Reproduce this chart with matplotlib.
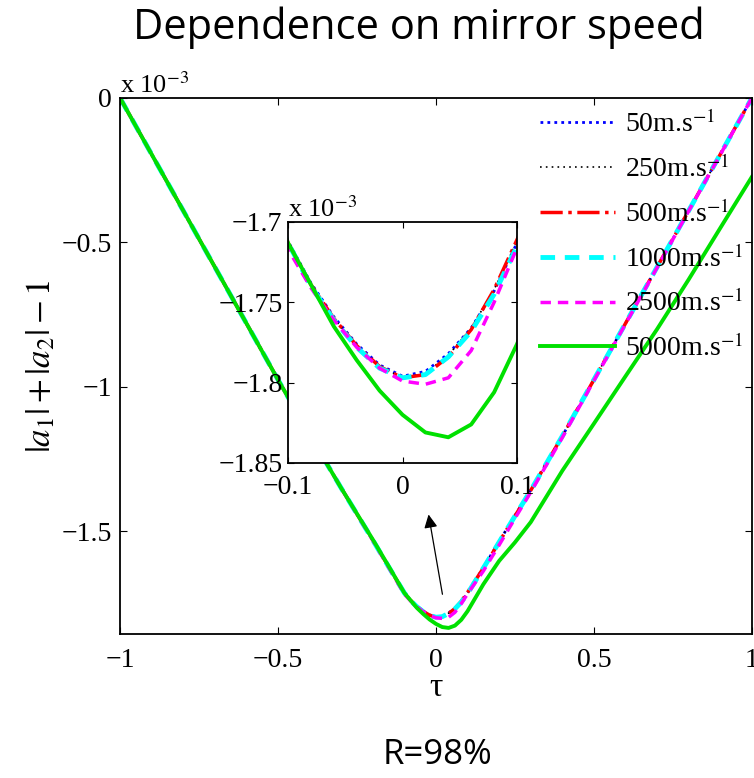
import numpy as np
import matplotlib
matplotlib.use('Agg')
from matplotlib import pyplot as plt

plt.rcParams['font.family'] = 'Liberation Serif'
plt.rcParams['mathtext.fontset'] = 'stix'

#%% data (values in units of 1e-3)
tau = [-1.0, -0.9, -0.8, -0.7, -0.6, -0.5, -0.4, -0.3, -0.2, -0.15,
       -0.1, -0.08, -0.06, -0.04, -0.02, 0.0, 0.02, 0.04, 0.06, 0.08, 0.1,
       0.15, 0.2, 0.25, 0.3, 0.4, 0.5, 0.6, 0.7, 0.8, 0.9, 1.0]

v50 = [0.0, -0.195, -0.39, -0.585, -0.78, -0.975, -1.165, -1.35, -1.530, -1.622,
       -1.712, -1.738, -1.759, -1.776, -1.789, -1.796, -1.793, -1.782, -1.766, -1.743, -1.713,
       -1.625, -1.535, -1.445, -1.357, -1.17, -0.975, -0.78, -0.585, -0.39, -0.195, 0.0]
v250 = [0.0, -0.195, -0.39, -0.585, -0.78, -0.975, -1.165, -1.35, -1.530, -1.622,
        -1.713, -1.739, -1.760, -1.777, -1.790, -1.797, -1.794, -1.783, -1.766, -1.742, -1.712,
        -1.625, -1.535, -1.445, -1.357, -1.17, -0.975, -0.78, -0.585, -0.39, -0.195, 0.0]
v500 = [0.0, -0.195, -0.39, -0.585, -0.78, -0.975, -1.165, -1.35, -1.530, -1.622,
        -1.713, -1.739, -1.760, -1.777, -1.790, -1.797, -1.795, -1.784, -1.767, -1.742, -1.711,
        -1.627, -1.537, -1.447, -1.358, -1.17, -0.975, -0.78, -0.585, -0.39, -0.195, 0.0]
v1000 = [0.0, -0.195, -0.39, -0.585, -0.78, -0.975, -1.165, -1.35, -1.530, -1.622,
         -1.713, -1.740, -1.761, -1.778, -1.791, -1.797, -1.795, -1.784, -1.768, -1.745, -1.715,
         -1.627, -1.537, -1.447, -1.358, -1.17, -0.975, -0.78, -0.585, -0.39, -0.195, 0.0]
v2500 = [0.0, -0.195, -0.39, -0.585, -0.78, -0.975, -1.165, -1.35, -1.531, -1.624,
         -1.717, -1.741, -1.761, -1.778, -1.791, -1.799, -1.801, -1.797, -1.780, -1.750, -1.716,
         -1.637, -1.547, -1.455, -1.364, -1.175, -0.978, -0.782, -0.587, -0.391, -0.196, 0.0]
v5000 = [0.0, -0.195, -0.39, -0.585, -0.78, -0.975, -1.165, -1.35, -1.528, -1.620,
         -1.713, -1.739, -1.765, -1.786, -1.805, -1.820, -1.831, -1.834, -1.826, -1.806, -1.776,
         -1.683, -1.602, -1.538, -1.468, -1.29, -1.127, -0.963, -0.80, -0.628, -0.45, -0.273]

labels = ['50m.s$^{-1}$', '250m.s$^{-1}$', '500m.s$^{-1}$',
          '1000m.s$^{-1}$', '2500m.s$^{-1}$', '5000m.s$^{-1}$']

series = [v50, v250, v500, v1000, v2500, v5000]
styles = [dict(color='blue', ls=(0, (1, 1.5)), lw=2.0),
          dict(color='black', ls=(0, (1, 2.5)), lw=1.2),
          dict(color='red', ls='-.', lw=2.5),
          dict(color='cyan', ls=(0, (3, 2)), lw=3.5),
          dict(color='magenta', ls=(0, (3, 2)), lw=2.5),
          dict(color='#00e000', ls='-', lw=2.8)]

#%% main plot
fig = plt.figure(figsize=(7.54, 7.78), dpi=100)
ax = fig.add_axes([0.1592, 0.1851, 0.838, 0.689])
for y, st, lab in zip(series, styles, labels):
    ax.plot(tau, y, label=lab, **st)

ax.set_xlim(-1, 1)
ax.set_ylim(-1.855, 0)
ax.set_xticks([-1, -0.5, 0, 0.5, 1])
ax.set_xticklabels(['\u22121', '\u22120.5', '0', '0.5', '1'])
ax.set_yticks([0, -0.5, -1, -1.5])
ax.set_yticklabels(['0', '\u22120.5', '\u22121', '\u22121.5'])
ax.tick_params(direction='in', top=True, right=True, labelsize=20, length=5, pad=6)
ax.tick_params(axis='x', pad=10)
for s in ax.spines.values():
    s.set_linewidth(1.3)
ax.set_xlabel('\u03c4', fontsize=24, labelpad=0)
ax.set_ylabel('$|a_1|+|a_2|-1$', fontsize=25, labelpad=2)
ax.text(0.0, 1.0, 'x 10$^{-3}$', transform=ax.transAxes, fontsize=19,
        ha='left', va='bottom')

ax.annotate('', xy=(-0.025, -1.432), xytext=(0.022, -1.727),
            arrowprops=dict(arrowstyle='-|>', color='black', lw=0.9,
                            mutation_scale=20))

ax.legend(loc='upper left', bbox_to_anchor=(0.716, 0.858), bbox_transform=fig.transFigure,
          frameon=False, fontsize=20, handlelength=2.7, handletextpad=0.35,
          labelspacing=0.62, borderaxespad=0, borderpad=0)

#%% inset
axi = fig.add_axes([0.382, 0.4049, 0.3037, 0.3098])
for y, st in zip(series, styles):
    axi.plot(tau, y, **st)
axi.set_xlim(-0.1, 0.1)
axi.set_ylim(-1.85, -1.7)
axi.set_xticks([-0.1, 0, 0.1])
axi.set_xticklabels(['\u22120.1', '0', '0.1'])
axi.set_yticks([-1.85, -1.8, -1.75, -1.7])
axi.set_yticklabels(['\u22121.85', '\u22121.8', '\u22121.75', '\u22121.7'])
axi.tick_params(direction='in', top=True, right=True, labelsize=20, length=4, pad=4)
axi.tick_params(axis='x', pad=9)
for s in axi.spines.values():
    s.set_linewidth(1.3)
axi.text(0.0, 1.0, 'x 10$^{-3}$', transform=axi.transAxes, fontsize=19,
         ha='left', va='bottom')

#%% headings
fig.text(0.555, 0.964, 'Dependence on mirror speed', fontsize=30, family='Open Sans',
         ha='center', va='center')
fig.text(0.58, 0.0296, 'R=98%', fontsize=25, family='Open Sans', ha='center', va='center')

fig.savefig('out.png', dpi=100)
